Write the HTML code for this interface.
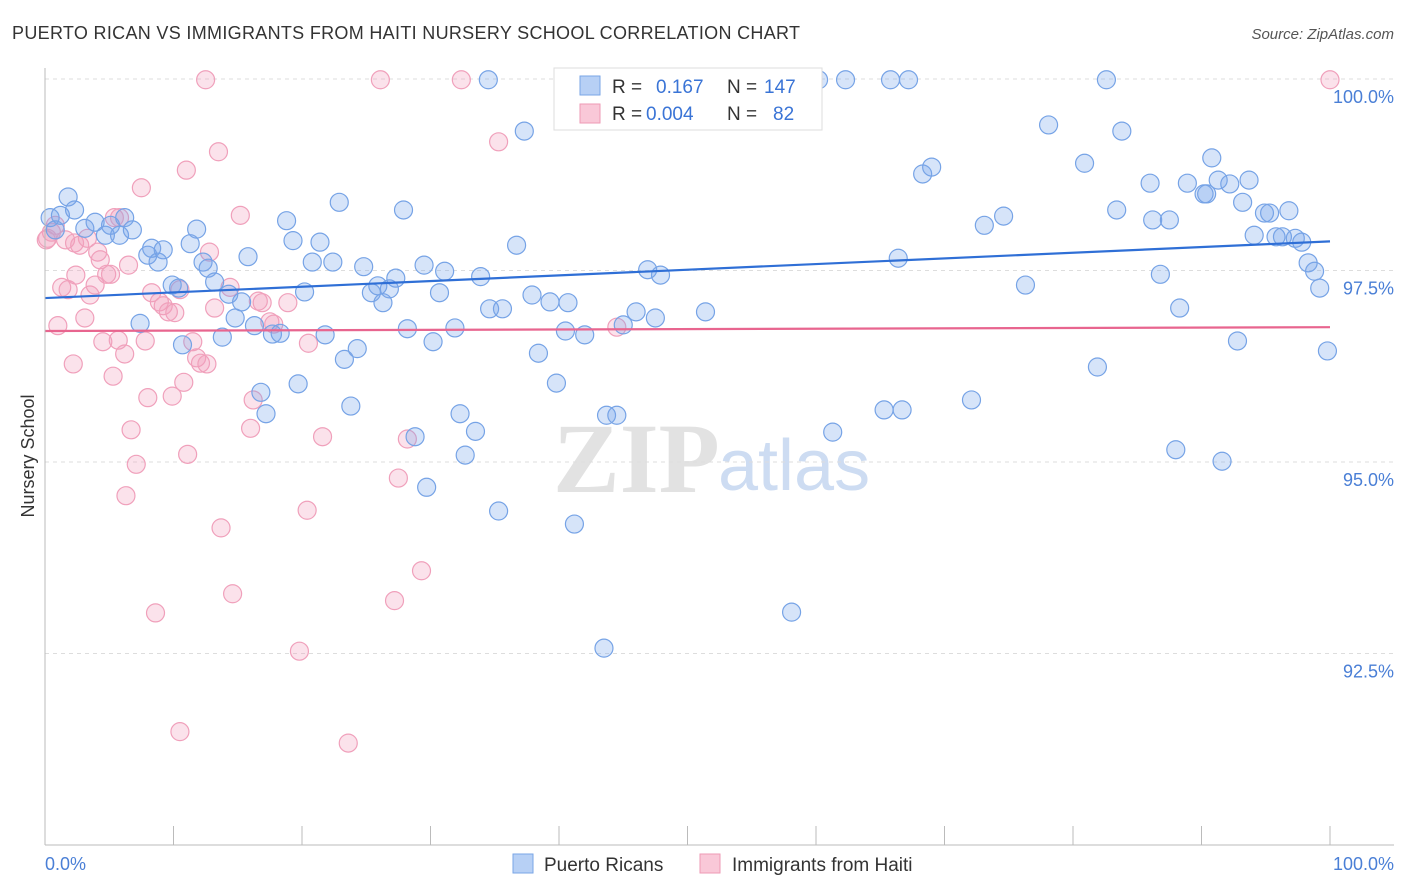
<!DOCTYPE html>
<html><head><meta charset="utf-8"><style>
body{margin:0;background:#fff;font-family:"Liberation Sans",sans-serif;}
svg{display:block}
</style></head><body>
<svg id="c" width="1406" height="892" xmlns="http://www.w3.org/2000/svg">
<text x="12" y="39" font-size="18" fill="#333" textLength="788">PUERTO RICAN VS IMMIGRANTS FROM HAITI NURSERY SCHOOL CORRELATION CHART</text>
<text x="1394" y="39" font-size="15" fill="#555" font-style="italic" text-anchor="end">Source: ZipAtlas.com</text>
<text x="553" y="492" font-size="100" fill="#e2e2e2" font-family="Liberation Serif" font-weight="bold">ZIP</text>
<text x="718" y="490" font-size="72" fill="#cddcf2">atlas</text>
<text x="34" y="456" font-size="18" fill="#333" text-anchor="middle" transform="rotate(-90 34 456)">Nursery School</text>
<g id="grid"></g><g id="pts"></g><g id="lines"></g>
<line x1="45" y1="845" x2="1394" y2="845" stroke="#bbb"/>
<line x1="45" y1="68" x2="45" y2="845" stroke="#bbb"/>
<text x="45" y="870" font-size="18" fill="#4a7fd6">0.0%</text>
<text x="1394" y="870" font-size="18" fill="#4a7fd6" text-anchor="end">100.0%</text>
<g>
<rect x="554" y="68" width="268" height="62" fill="#fff" stroke="#ddd"/>
<rect x="580" y="76" width="20" height="19" fill="#b7d0f5" stroke="#7aa6e6"/>
<rect x="580" y="104" width="20" height="19" fill="#f9c8d8" stroke="#ee9ab5"/>
<text x="612" y="93" font-size="19" fill="#333">R = </text><text x="656" y="93" font-size="19" fill="#3a74d6">0.167</text>
<text x="727" y="93" font-size="19" fill="#333">N = </text><text x="764" y="93" font-size="19" fill="#3a74d6">147</text>
<text x="612" y="120" font-size="19" fill="#333">R = </text><text x="646" y="120" font-size="19" fill="#3a74d6">0.004</text>
<text x="727" y="120" font-size="19" fill="#333">N = </text><text x="773" y="120" font-size="19" fill="#3a74d6">82</text>
</g>
<g>
<rect x="513" y="854" width="20" height="19" fill="#b7d0f5" stroke="#7aa6e6"/>
<text x="544" y="871" font-size="19" fill="#333">Puerto Ricans</text>
<rect x="700" y="854" width="20" height="19" fill="#f9c8d8" stroke="#ee9ab5"/>
<text x="732" y="871" font-size="19" fill="#333">Immigrants from Haiti</text>
</g>
</svg>
<script>
const yTicks=[100,97.5,95,92.5];
const yTickLabels=["100.0%","97.5%","95.0%","92.5%"];
const blueX=[0.4,0.8,1.2,1.8,2.3,3.1,3.9,4.7,5.1,5.8,6.2,6.8,7.4,8.0,8.3,8.8,9.2,9.9,10.4,10.7,11.3,11.8,12.3,12.7,13.2,13.8,14.3,14.8,15.3,15.8,16.3,16.8,17.2,17.7,18.3,18.8,19.3,19.7,20.2,20.8,21.4,21.8,22.4,22.9,23.3,23.8,24.3,24.8,25.4,25.9,26.3,26.8,27.3,27.9,28.2,28.8,29.5,29.7,30.2,30.7,31.1,31.9,32.3,32.7,33.5,33.9,34.5,34.6,35.3,35.6,36.7,37.3,37.9,38.4,39.3,39.8,40.5,40.7,41.2,42.0,43.5,43.7,44.5,45.0,46.0,46.9,47.5,47.9,49.1,51.4,53.5,58.1,59.5,60.2,61.3,62.3,65.3,65.8,66.4,66.7,67.2,68.3,69.0,72.1,73.1,74.6,76.3,78.1,80.9,81.9,82.6,83.4,83.8,86.0,86.2,86.8,87.5,88.0,88.3,88.9,90.2,90.4,90.8,91.3,91.6,92.2,92.8,93.2,93.7,94.1,94.9,95.3,95.8,96.3,96.8,97.3,97.8,98.3,98.8,99.2,99.8];
const blueY=[98.19,98.03,98.22,98.46,98.29,98.05,98.13,97.96,98.09,97.96,98.19,98.03,96.81,97.70,97.79,97.61,97.77,97.31,97.27,96.53,97.85,98.04,97.61,97.53,97.35,96.63,97.19,96.88,97.09,97.68,96.78,95.91,95.63,96.67,96.68,98.15,97.89,96.02,97.22,97.61,97.87,96.66,97.61,98.39,96.34,95.73,96.48,97.55,97.21,97.30,97.08,97.26,97.40,98.29,96.74,95.33,97.57,94.67,96.57,97.21,97.49,96.75,95.63,95.09,95.40,97.42,99.99,97.00,94.36,97.00,97.83,99.32,97.18,96.42,97.09,96.03,96.71,97.08,94.19,96.66,92.57,95.61,95.61,96.79,96.96,97.51,96.88,97.44,99.99,96.96,99.99,93.04,99.99,99.99,95.39,99.99,95.68,99.99,97.66,95.68,99.99,98.76,98.85,95.81,98.09,98.21,97.31,99.40,98.90,96.24,99.99,98.29,99.32,98.64,98.16,97.45,98.16,95.16,97.01,98.64,98.50,98.50,98.97,98.68,95.01,98.63,96.58,98.39,98.68,97.96,98.25,98.25,97.94,97.94,98.28,97.92,97.87,97.60,97.49,97.27,96.45];
const pinkX=[0.2,0.5,1.0,1.3,1.8,2.2,2.4,2.7,3.1,3.3,3.5,3.9,4.1,4.5,4.8,5.1,5.3,5.4,5.7,5.8,6.2,6.3,6.5,6.7,7.1,7.5,7.8,8.0,8.3,8.6,8.9,9.2,9.6,9.9,10.1,10.5,10.8,11.0,11.1,11.5,11.8,12.1,12.5,12.6,12.8,13.2,13.5,13.7,14.4,14.6,15.2,16.0,16.2,16.6,16.9,17.5,17.8,18.9,19.8,20.4,20.5,21.6,23.6,26.1,27.2,27.5,28.2,29.3,32.4,35.3,44.5,100,10.5,0.1,0.8,1.6,2.3,4.3];
const pinkY=[97.92,98.00,96.78,97.28,97.25,96.28,97.44,97.83,96.88,97.92,97.18,97.31,97.74,96.57,97.45,97.45,96.12,98.19,96.59,98.19,96.41,94.56,97.57,95.42,94.97,98.58,96.58,95.84,97.21,93.03,97.09,97.04,96.96,95.86,96.95,97.25,96.04,98.81,95.10,96.57,96.36,96.29,99.99,96.28,97.74,97.01,99.05,94.14,97.28,93.28,98.22,95.44,95.81,97.10,97.08,96.83,96.80,97.08,92.53,94.37,96.55,95.33,91.33,99.99,93.19,94.79,95.30,93.58,99.99,99.18,96.76,99.99,91.48,97.90,98.09,97.90,97.86,97.64];
const blueTrend=[97.14,97.88];
const pinkTrend=[96.71,96.76];
const NS='http://www.w3.org/2000/svg';
const xs=v=>45+v*12.85;
const ys=v=>79+(100-v)*76.6;
function mk(t,a,p){const e=document.createElementNS(NS,t);for(const k in a)e.setAttribute(k,a[k]);p.appendChild(e);return e;}
const grid=document.getElementById('grid');
yTicks.forEach((t,i)=>{
const l=mk('line',{x1:45,x2:1394,y1:ys(t),y2:ys(t),stroke:'#ddd','stroke-dasharray':'4,4'},grid);


const tx=mk('text',{x:1394,y:ys(t)+24,'font-size':18,fill:'#4a7fd6','text-anchor':'end'},grid);
tx.textContent=yTickLabels[i];


});
for(let i=0;i<=10;i++){
const l=mk('line',{x1:xs(i*10),x2:xs(i*10),y1:826,y2:845,stroke:'#bbb'},grid);


}
const pts=document.getElementById('pts');
pinkX.forEach((x,i)=>{
const c=mk('circle',{cx:xs(x),cy:ys(pinkY[i]),r:9,fill:'rgba(243,160,188,0.3)',stroke:'#f0a0bb','stroke-width':1.2},pts);


});
blueX.forEach((x,i)=>{
const c=mk('circle',{cx:xs(x),cy:ys(blueY[i]),r:9,fill:'rgba(120,165,235,0.3)',stroke:'#76a3e6','stroke-width':1.2},pts);


});
const ln=document.getElementById('lines');
const b=mk('line',{x1:xs(0),x2:xs(100),y1:ys(blueTrend[0]),y2:ys(blueTrend[1]),stroke:'#2f6fd6','stroke-width':2.2},ln);


const p=mk('line',{x1:xs(0),x2:xs(100),y1:ys(pinkTrend[0]),y2:ys(pinkTrend[1]),stroke:'#e8658f','stroke-width':2.2},ln);


</script>
</body></html>
